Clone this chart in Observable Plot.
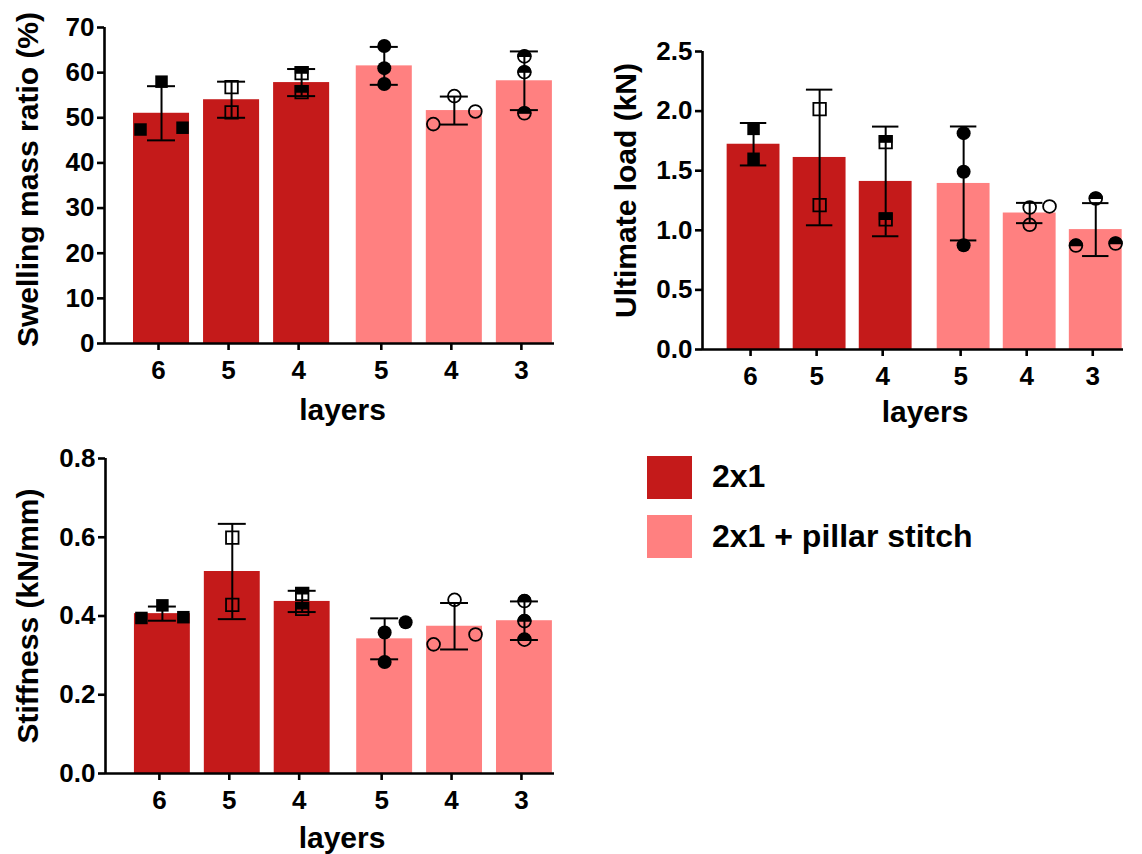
<!DOCTYPE html>
<html><head><meta charset="utf-8">
<script src="https://cdn.jsdelivr.net/npm/d3@7"></script>
<script src="https://cdn.jsdelivr.net/npm/@observablehq/plot@0.6"></script>
<style>
html,body{margin:0;padding:0;background:#fff;}
#root{position:relative;width:1142px;height:854px;overflow:hidden;font-family:"Liberation Sans",Arial,sans-serif;font-weight:bold;color:#000;}
.panel{position:absolute;}
.swatch{position:absolute;width:45px;height:43px;}
.ltext{position:absolute;font-size:32px;line-height:32px;white-space:nowrap;}
</style></head><body><div id="root"></div>
<script>
// ---- data ----
const layers = ["6", "5", "4", "5", "4", "3"];
const groups = ["2x1", "2x1", "2x1", "2x1 + pillar stitch", "2x1 + pillar stitch", "2x1 + pillar stitch"];
const groupNames = ["2x1", "2x1 + pillar stitch"];
const groupColors = ["#C41A1A", "#FF8080"];

const swellingMean = [51.0, 54.0, 57.8, 61.5, 51.6, 58.2];
const swellingSD = [6.0, 4.0, 3.0, 4.2, 3.1, 6.5];
const swellingPoints = [[58.0, 47.4, 47.8], [56.8, 51.2], [59.9, 55.7], [65.9, 61.0, 57.5], [54.8, 48.6, 51.4], [63.6, 60.1, 51.0]];
const swellingTicks = [0, 10, 20, 30, 40, 50, 60, 70];

const loadMean = [1.722, 1.611, 1.410, 1.393, 1.145, 1.006];
const loadSD = [0.178, 0.569, 0.460, 0.478, 0.085, 0.222];
const loadPoints = [[1.851, 1.600], [2.016, 1.211], [1.739, 1.091], [1.815, 1.491, 0.875], [1.191, 1.046, 1.200], [1.267, 0.872, 0.889]];
const loadTicks = [0, 0.5, 1.0, 1.5, 2.0, 2.5];

const stiffMean = [0.406, 0.513, 0.437, 0.342, 0.374, 0.388];
const stiffSD = [0.018, 0.121, 0.027, 0.052, 0.059, 0.049];
const stiffPoints = [[0.427, 0.395, 0.397], [0.599, 0.428], [0.456, 0.418], [0.358, 0.283, 0.384], [0.441, 0.328, 0.353], [0.438, 0.387, 0.340]];
const stiffTicks = [0, 0.2, 0.4, 0.6, 0.8];

// ---- helpers ----
const root = document.getElementById("root");
const FONT = "Liberation Sans, Arial, sans-serif";
const groupGap = 0.18;
const xPos = i => i + (i >= 3 ? groupGap : 0);
const tickPositions = layers.map((_, i) => xPos(i));
const tickLabelMap = new Map(tickPositions.map((p, i) => [p, layers[i]]));

const sqSym = {draw(ctx, size) { const s = Math.sqrt(size); ctx.rect(-s / 2, -s / 2, s, s); }};
const halfSqSym = {draw(ctx, size) { const s = Math.sqrt(size); ctx.rect(-s / 2, -s / 2, s, s / 2); }};
const halfCircSym = {draw(ctx, size) { const r = Math.sqrt(size / Math.PI); ctx.moveTo(r, 0); ctx.arc(0, 0, r, 0, Math.PI, true); ctx.closePath(); }};
const sqR = Math.sqrt(12.5 * 12.5 / Math.PI);
const circR = 6.4;

// marker style by bar index: shape from group, fill from position within group
function markerOf(i) {
  const shape = groups[i] === groupNames[0] ? "square" : "circle";
  const fillKind = ["filled", "open", "half"][i % 3];
  return {shape, fillKind};
}

// place points side by side when they collide vertically (GraphPad-like scatter)
function dodge(vals, pxPerUnit, thr) {
  const order = vals.map((v, k) => k).sort((a, b) => vals[a] - vals[b]);
  const slot = new Array(vals.length);
  const placed = [];
  let start = 0;
  if (order.length >= 2 && (vals[order[1]] - vals[order[0]]) * pxPerUnit < thr) {
    slot[order[0]] = -1; slot[order[1]] = 1;
    placed.push({v: vals[order[0]], s: -1}, {v: vals[order[1]], s: 1});
    start = 2;
  }
  for (let j = start; j < order.length; j++) {
    const k = order[j];
    for (const s of [0, 1, -1, 2, -2]) {
      if (!placed.some(p => p.s === s && Math.abs(p.v - vals[k]) * pxPerUnit < thr)) {
        slot[k] = s; placed.push({v: vals[k], s}); break;
      }
    }
  }
  return slot;
}

function panel(cfg) {
  const {means, sds, points, ticks, ytitle, fmt} = cfg;
  const ymax = ticks[ticks.length - 1];
  const plotH = cfg.height - cfg.marginTop - cfg.marginBottom;
  const ppu = plotH / ymax;
  const bars = means.map((m, i) => ({i, x: xPos(i), mean: m, sd: sds[i], group: groups[i]}));
  const pts = [];
  points.forEach((vals, i) => {
    const slots = dodge(vals, ppu, 14);
    vals.forEach((v, k) => pts.push({i, v, x: xPos(i) + slots[k] * 0.3, ...markerOf(i)}));
  });
  const xd = cfg.xDomain;
  const marks = [
    Plot.rect(bars, {x1: d => d.x - 0.4, x2: d => d.x + 0.4, y1: 0, y2: "mean", fill: d => groupColors[groupNames.indexOf(d.group)]}),
    Plot.ruleX(bars, {x: "x", y1: d => d.mean - d.sd, y2: d => d.mean + d.sd, stroke: "#000", strokeWidth: 2}),
    Plot.ruleY(bars, {x1: d => d.x - 0.2, x2: d => d.x + 0.2, y: d => d.mean + d.sd, stroke: "#000", strokeWidth: 2}),
    Plot.ruleY(bars, {x1: d => d.x - 0.2, x2: d => d.x + 0.2, y: d => d.mean - d.sd, stroke: "#000", strokeWidth: 2}),
    // filled markers
    Plot.dot(pts.filter(d => d.fillKind === "filled" && d.shape === "square"), {x: "x", y: "v", r: sqR, symbol: sqSym, fill: "#000", stroke: "none"}),
    Plot.dot(pts.filter(d => d.fillKind === "filled" && d.shape === "circle"), {x: "x", y: "v", r: circR + 0.6, symbol: "circle", fill: "#000", stroke: "none"}),
    // open + half outlines
    Plot.dot(pts.filter(d => d.fillKind !== "filled" && d.shape === "square"), {x: "x", y: "v", r: sqR, symbol: sqSym, fill: "none", stroke: "#000", strokeWidth: 1.8}),
    Plot.dot(pts.filter(d => d.fillKind !== "filled" && d.shape === "circle"), {x: "x", y: "v", r: circR, symbol: "circle", fill: "none", stroke: "#000", strokeWidth: 1.8}),
    // half fills
    Plot.dot(pts.filter(d => d.fillKind === "half" && d.shape === "square"), {x: "x", y: "v", r: sqR, symbol: halfSqSym, fill: "#000", stroke: "#000", strokeWidth: 1.2}),
    Plot.dot(pts.filter(d => d.fillKind === "half" && d.shape === "circle"), {x: "x", y: "v", r: circR, symbol: halfCircSym, fill: "#000", stroke: "#000", strokeWidth: 1.2}),
    // axes lines
    Plot.ruleY([0], {stroke: "#000", strokeWidth: 2.6}),
    Plot.ruleX([xd[0]], {stroke: "#000", strokeWidth: 2.6}),
    Plot.axisY(ticks, {tickSize: 7, tickPadding: 3, strokeWidth: 2.6, fontSize: 26, fontWeight: "bold", tickFormat: fmt, label: null}),
    Plot.axisX(tickPositions, {tickSize: 7, tickPadding: 10, strokeWidth: 2.6, fontSize: 26, fontWeight: "bold", tickFormat: d => tickLabelMap.get(d), label: null, textStroke: "none", dx: -3}),
    Plot.text([ytitle], {frameAnchor: "left", rotate: -90, dx: cfg.titleDx, dy: cfg.titleDy, fontSize: 30, fontWeight: "bold", fill: "#000", textAnchor: "middle", lineAnchor: "middle"}),
    Plot.text(["layers"], {frameAnchor: "bottom", dy: cfg.layersDy, dx: cfg.layersDx, fontSize: 30, fontWeight: "bold", fill: "#000", lineAnchor: "middle"})
  ];
  const svg = Plot.plot({
    width: cfg.width, height: cfg.height,
    marginLeft: cfg.marginLeft, marginRight: cfg.marginRight, marginTop: cfg.marginTop, marginBottom: cfg.marginBottom,
    x: {type: "linear", domain: xd, axis: null},
    y: {domain: [0, ymax], axis: null},
    style: {fontFamily: FONT, fontWeight: "bold", color: "#000", background: "transparent", overflow: "visible"},
    marks
  });
  const wrap = document.createElement("div");
  wrap.className = "panel";
  wrap.style.left = cfg.left + "px";
  wrap.style.top = cfg.top + "px";
  wrap.appendChild(svg);
  root.appendChild(wrap);
}

panel({
  means: swellingMean, sds: swellingSD, points: swellingPoints, ticks: swellingTicks,
  ytitle: "Swelling mass ratio (%)", fmt: d3.format("d"),
  left: 0, top: 0, width: 570, height: 430,
  marginLeft: 104, marginRight: 16, marginTop: 27, marginBottom: 87,
  xDomain: [-0.814, 5.61], titleDx: -76, titleDy: -6, layersDy: 67, layersDx: 13
});
panel({
  means: loadMean, sds: loadSD, points: loadPoints, ticks: loadTicks,
  ytitle: "Ultimate load (kN)", fmt: d3.format(".1f"),
  left: 580, top: 0, width: 562, height: 430,
  marginLeft: 122, marginRight: 19, marginTop: 51, marginBottom: 81,
  xDomain: [-0.773, 5.6], titleDx: -76, titleDy: -10, layersDy: 63, layersDx: 12
});
panel({
  means: stiffMean, sds: stiffSD, points: stiffPoints, ticks: stiffTicks,
  ytitle: "Stiffness (kN/mm)", fmt: d3.format(".1f"),
  left: 0, top: 430, width: 570, height: 424,
  marginLeft: 105, marginRight: 16, marginTop: 28, marginBottom: 81,
  xDomain: [-0.814, 5.61], titleDx: -77, titleDy: 0, layersDy: 65, layersDx: 12
});

// legend
groupNames.forEach((g, k) => {
  const sw = document.createElement("div");
  sw.className = "swatch";
  sw.style.left = "647px";
  sw.style.top = (456 + k * 59) + "px";
  sw.style.background = groupColors[k];
  root.appendChild(sw);
  const t = document.createElement("div");
  t.className = "ltext";
  t.style.left = "712px";
  t.style.top = (460 + k * 60) + "px";
  t.textContent = g;
  root.appendChild(t);
});
</script></body></html>
